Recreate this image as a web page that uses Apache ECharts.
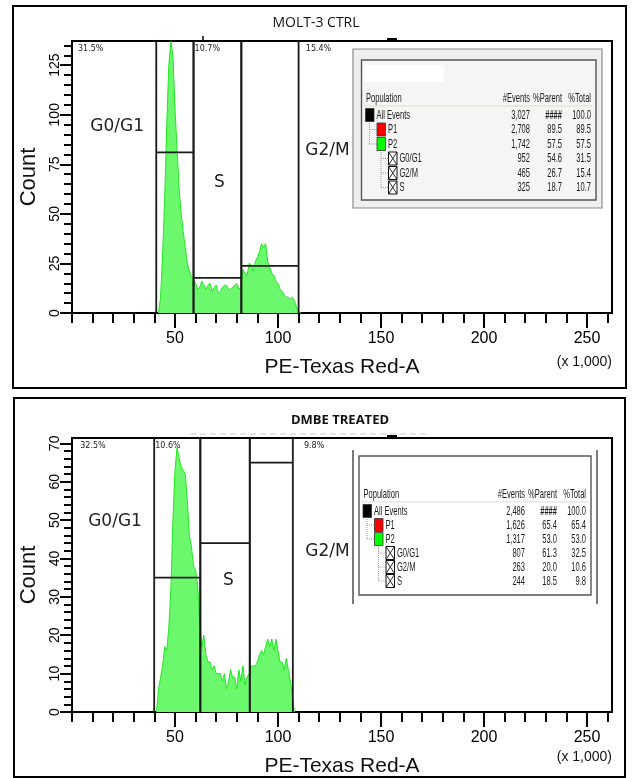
<!DOCTYPE html>
<html>
<head>
<meta charset="utf-8">
<script src="https://cdn.jsdelivr.net/npm/echarts@6/dist/echarts.min.js"></script>
<style>html,body{margin:0;padding:0;background:#fff}#c{width:632px;height:778px}</style>
</head>
<body>
<div id="c"></div>
<script>
// ---------------- DATA ----------------
const panelTitles = ['MOLT-3 CTRL', 'DMBE TREATED'];
const xAxisName = 'PE-Texas Red-A';
const xAxisUnit = '(x 1,000)';
const yAxisName = 'Count';

const binsCtrl = [42,43,44,45,46,47,48,49,50,51,52,53,54,55,56,57,58,59,60,61,62,63,64,65,66,67,68,69,70,71,72,73,74,75,76,77,78,79,80,81,82,83,84,85,86,87,88,89,90,91,92,93,94,95,96,97,98,99,100,101,102,103,104,105,106,107,108,109,110,111];
const countsCtrl = [0,8,30,58,95,125,137,130,103,83,
  63,50,41,33,25,21,18,17,15,12,
  13,16,14,12,14,15,11,13,14,10,
  11,13,14,14,12,12,13,14,15,12,
  13,22,20,19,25,24,21,26,28,31,
  35,33,35,26,23,20,19,16,15,12,
  11,9,8,8,7,8,6,3,1,0];

const binsDmbe = [41,42,43,44,45,46,47,48,49,50,51,52,53,54,55,56,57,58,59,60,61,62,63,64,65,66,67,68,69,70,71,72,73,74,75,76,77,78,79,80,81,82,83,84,85,86,87,88,89,90,91,92,93,94,95,96,97,98,99,100,101,102,103,104,105,106,107,108];
const countsDmbe = [0,6,9,12,17,16,22,32,50,63,
  69,66,64,63,62,55,46,43,38,37,
  33,24,17,20,15,13,13,11,12,10,
  10,10,8,10,6,8,11,9,9,6,
  11,8,12,7,9,10,12,12,12,13,
  15,16,15,17,19,17,19,16,19,16,
  13,13,11,14,11,8,4,0];

// gates: [start, end, level]
const gateNames = ['G0/G1', 'S', 'G2/M'];
const gatesCtrl = [[40.9, 59.0, 81], [59.0, 82.2, 17.7], [82.2, 110.0, 23.8]];
const gatesDmbe = [[39.9, 62.3, 35], [62.3, 86.3, 44], [86.3, 107.2, 65]];
const pctLabelsCtrl = ['31.5%', '10.7%', '15.4%'];
const pctLabelsDmbe = ['32.5%', '10.6%', '9.8%'];

// axes
const xMax = 262.144;
const yMaxCtrl = 137.2;
const yMaxDmbe = 71.4;
const xMajorTicks = [50, 100, 150, 200, 250];
const xMinorTicks = [0,10,20,30,40,50,60,70,80,90,100,110,120,130,140,150,160,170,180,190,200,210,220,230,240,250,260];
const yMajorCtrl = [0, 25, 50, 75, 100, 125];
const yMinorCtrl = [0,5,10,15,20,25,30,35,40,45,50,55,60,65,70,75,80,85,90,95,100,105,110,115,120,125,130,135];
const yMajorDmbe = [0, 10, 20, 30, 40, 50, 60, 70];
const yMinorDmbe = [0,2,4,6,8,10,12,14,16,18,20,22,24,26,28,30,32,34,36,38,40,42,44,46,48,50,52,54,56,58,60,62,64,66,68,70];

// statistics tables
const tableHeader = ['Population', '#Events', '%Parent', '%Total'];
const populations = ['All Events', 'P1', 'P2', 'G0/G1', 'G2/M', 'S'];
const eventsCtrl = ['3,027', '2,708', '1,742', '952', '465', '325'];
const parentCtrl = ['####', '89.5', '57.5', '54.6', '26.7', '18.7'];
const totalCtrl  = ['100.0', '89.5', '57.5', '31.5', '15.4', '10.7'];
const eventsDmbe = ['2,486', '1,626', '1,317', '807', '263', '244'];
const parentDmbe = ['####', '65.4', '53.0', '61.3', '20.0', '18.5'];
const totalDmbe  = ['100.0', '65.4', '53.0', '32.5', '10.6', '9.8'];

// ---------------- LAYOUT / STYLE ----------------
const SANS = "'Liberation Sans', Arial, sans-serif";
const VERD = "'DejaVu Sans', Verdana, sans-serif";
const grids = [
  {left: 72, top: 41, width: 540, height: 272},
  {left: 72, top: 438, width: 540, height: 274}
];
const regionLabelAnchors = [
  [[21.9, 94], [71.5, 66], [124, 82]],
  [[20.9, 49.7], [75.9, 34.3], [124, 41.8]]
];
const pctAnchorsX = [[2.9, 59.5, 113.5], [4.0, 40.4, 112.6]];

function xAxesFor(gi) {
  return [
    {gridIndex: gi, type: 'value', min: 0, max: xMax, interval: 50, position: 'bottom',
     axisLine: {show: true, onZero: false, lineStyle: {color: '#000', width: 2}},
     axisTick: {show: true, inside: false, length: 15, customValues: xMajorTicks, lineStyle: {color: '#000', width: 2}},
     axisLabel: {show: true, customValues: xMajorTicks, margin: 18, fontSize: 16, color: '#000', fontFamily: SANS},
     splitLine: {show: false},
     name: xAxisName, nameLocation: 'middle', nameGap: 44,
     nameTextStyle: {fontSize: 21, color: '#111', fontFamily: SANS}},
    {gridIndex: gi, type: 'value', min: 0, max: xMax, interval: 10, position: 'bottom',
     axisLine: {show: false}, axisLabel: {show: false}, splitLine: {show: false},
     axisTick: {show: true, inside: false, length: 10, customValues: xMinorTicks, lineStyle: {color: '#000', width: 2}}}
  ];
}
function yAxesFor(gi, yMax, major, minor, majInt, minInt) {
  return [
    {gridIndex: gi, type: 'value', min: 0, max: yMax, interval: majInt, position: 'left',
     axisLine: {show: true, onZero: false, lineStyle: {color: '#000', width: 2}},
     axisTick: {show: true, inside: false, length: 12, customValues: major, lineStyle: {color: '#000', width: 2}},
     axisLabel: {show: true, customValues: major, rotate: 90, margin: 10, fontSize: 14, color: '#000', fontFamily: SANS},
     splitLine: {show: false},
     name: yAxisName, nameLocation: 'middle', nameGap: 30, nameRotate: 90,
     nameTextStyle: {fontSize: 22, color: '#111', fontFamily: SANS}},
    {gridIndex: gi, type: 'value', min: 0, max: yMax, interval: minInt, position: 'left',
     axisLine: {show: false}, axisLabel: {show: false}, splitLine: {show: false},
     axisTick: {show: true, inside: false, length: 8, customValues: minor, lineStyle: {color: '#000', width: 2}}}
  ];
}

function gateRender(params, api) {
  const cs = params.coordSys;
  const xa = api.coord([api.value(0), 0])[0];
  const xb = api.coord([api.value(1), 0])[0];
  const yh = api.coord([0, api.value(2)])[1];
  const st = {stroke: '#1a1a1a', lineWidth: 1.8};
  return {type: 'group', children: [
    {type: 'line', shape: {x1: xa, y1: cs.y, x2: xa, y2: cs.y + cs.height}, style: st},
    {type: 'line', shape: {x1: xb, y1: cs.y, x2: xb, y2: cs.y + cs.height}, style: st},
    {type: 'line', shape: {x1: xa, y1: yh, x2: xb, y2: yh}, style: st}
  ]};
}

function histSeries(xi, yi, bins, counts) {
  return {type: 'line', xAxisIndex: xi, yAxisIndex: yi,
    data: bins.map((b, i) => [b, counts[i]]),
    symbol: 'none', silent: true, z: 2,
    lineStyle: {color: '#22e622', width: 1},
    areaStyle: {color: '#6cf86c', opacity: 1}};
}

const chart = echarts.init(document.getElementById('c'));
chart.setOption({
  animation: false,
  backgroundColor: '#fff',
  grid: grids.map(g => Object.assign({show: true, borderColor: '#000', borderWidth: 2, containLabel: false, outerBoundsMode: 'none'}, g)),
  xAxis: [].concat(xAxesFor(0), xAxesFor(1)),
  yAxis: [].concat(yAxesFor(0, yMaxCtrl, yMajorCtrl, yMinorCtrl, 25, 5), yAxesFor(1, yMaxDmbe, yMajorDmbe, yMinorDmbe, 10, 2)),
  series: [
    histSeries(0, 0, binsCtrl, countsCtrl),
    {type: 'custom', xAxisIndex: 0, yAxisIndex: 0, data: gatesCtrl, renderItem: gateRender, z: 5, clip: false, silent: true},
    histSeries(2, 2, binsDmbe, countsDmbe),
    {type: 'custom', xAxisIndex: 2, yAxisIndex: 2, data: gatesDmbe, renderItem: gateRender, z: 5, clip: false, silent: true}
  ]
});

// ---------------- GRAPHIC OVERLAYS ----------------
const els = [];
// panel frames
els.push({type: 'rect', shape: {x: 13, y: 6, width: 613, height: 382}, style: {fill: null, stroke: '#000', lineWidth: 2}, z: 1});
els.push({type: 'rect', shape: {x: 14, y: 398, width: 611, height: 379}, style: {fill: null, stroke: '#000', lineWidth: 2}, z: 1});
// titles
els.push({type: 'text', style: {text: panelTitles[0], x: 316, y: 23, align: 'center', verticalAlign: 'middle', fill: '#111', font: "14px 'Open Sans', sans-serif"}, z: 10});
els.push({type: 'text', style: {text: panelTitles[1], x: 340, y: 420, align: 'center', verticalAlign: 'middle', fill: '#111', font: "bold 13px 'Open Sans', sans-serif"}, z: 10});
// small artifacts on plot tops
els.push({type: 'line', shape: {x1: 203, y1: 36, x2: 203, y2: 41}, style: {stroke: '#000', lineWidth: 1.5}, z: 10});
els.push({type: 'rect', shape: {x: 387, y: 38, width: 10, height: 3.5}, style: {fill: '#000'}, z: 10});
els.push({type: 'line', shape: {x1: 190, y1: 434, x2: 430, y2: 434}, style: {stroke: '#c8c8c8', lineWidth: 1, lineDash: [6, 4]}, z: 10});
els.push({type: 'rect', shape: {x: 387, y: 435, width: 10, height: 3.5}, style: {fill: '#000'}, z: 10});
// unit labels
[[612, 362], [612, 757]].forEach(p => {
  els.push({type: 'text', style: {text: xAxisUnit, x: p[0], y: p[1], align: 'right', verticalAlign: 'middle', fill: '#111', font: '14px ' + SANS}, z: 10});
});

// region & percentage labels via the axes' scales
const pctSets = [pctLabelsCtrl, pctLabelsDmbe];
[0, 1].forEach(gi => {
  const finder = {gridIndex: gi};
  regionLabelAnchors[gi].forEach((a, k) => {
    const p = chart.convertToPixel(finder, a);
    els.push({type: 'text', style: {text: gateNames[k], x: p[0], y: p[1], align: 'center', verticalAlign: 'middle', fill: '#222', font: '17px ' + VERD}, z: 10});
  });
  pctAnchorsX[gi].forEach((ax, k) => {
    const p = chart.convertToPixel(finder, [ax, 0]);
    els.push({type: 'text', style: {text: pctSets[gi][k], x: p[0], y: grids[gi].top + 8, align: 'left', verticalAlign: 'middle', fill: '#222', font: '8px ' + VERD}, z: 10});
  });
});

// statistics tables (narrow text emulated by horizontal scaling)
const TFONT = '13px ' + SANS;
const NARROW_SCALE = 0.58;
function ntext(text, x, y, align, z, bold) {
  return {type: 'text', x: x, y: y, scaleX: NARROW_SCALE, z: z,
    style: {text: text, x: 0, y: 0, align: align, verticalAlign: 'middle', fill: '#1a1a1a', font: (bold ? 'bold ' : '') + TFONT}};
}
function buildTable(c) {
  const [ix, iy, iw, ih] = c.inner;
  const R = ix + iw;
  if (c.outerFull) {
    els.push({type: 'rect', shape: {x: c.outer[0], y: c.outer[1], width: c.outer[2], height: c.outer[3]}, style: {fill: c.outerFill, stroke: '#8a8a8a', lineWidth: 1.2}, z: 20});
  } else {
    const [ox, oy, ow, oh] = c.outer;
    els.push({type: 'line', shape: {x1: ox, y1: oy, x2: ox, y2: oy + oh}, style: {stroke: '#222', lineWidth: 1.2}, z: 20});
    els.push({type: 'line', shape: {x1: ox + ow, y1: oy, x2: ox + ow, y2: oy + oh}, style: {stroke: '#222', lineWidth: 1.2}, z: 20});
  }
  els.push({type: 'rect', shape: {x: ix, y: iy, width: iw, height: ih}, style: {fill: c.innerFill, stroke: '#555', lineWidth: 1.4}, z: 21});
  if (c.whiteBox) els.push({type: 'rect', shape: {x: ix + 2, y: iy + 5, width: 80, height: 17}, style: {fill: '#fff'}, z: 22});
  const hy = iy + 38;
  const colR = [R - 66, R - 34, R - 5];
  els.push(ntext(tableHeader[0], ix + 4.5, hy, 'left', 23));
  for (let k = 1; k < 4; k++) els.push(ntext(tableHeader[k], colR[k - 1], hy, 'right', 23));
  els.push({type: 'line', shape: {x1: ix + 2, y1: iy + 46, x2: R - 3, y2: iy + 46}, style: {stroke: '#e2dbcc', lineWidth: 1}, z: 23});
  const levels = [0, 1, 1, 2, 2, 2];
  const icons = ['#000', '#ff0000', '#00ff00', 'x', 'x', 'x'];
  const rowY = populations.map((_, i) => iy + 55 + i * c.rowStep);
  // tree lines
  const tl = {stroke: '#9a9a9a', lineWidth: 1, lineDash: [1, 1]};
  const lx0 = ix + 8, lx1 = ix + 19.5;
  els.push({type: 'line', shape: {x1: lx0, y1: rowY[0] + 6, x2: lx0, y2: rowY[2]}, style: tl, z: 23});
  [1, 2].forEach(i => els.push({type: 'line', shape: {x1: lx0, y1: rowY[i], x2: ix + 15.5, y2: rowY[i]}, style: tl, z: 23}));
  els.push({type: 'line', shape: {x1: lx1, y1: rowY[2] + 6, x2: lx1, y2: rowY[5]}, style: tl, z: 23});
  [3, 4, 5].forEach(i => els.push({type: 'line', shape: {x1: lx1, y1: rowY[i], x2: ix + 27, y2: rowY[i]}, style: tl, z: 23}));
  populations.forEach((name, i) => {
    const y = rowY[i];
    const icx = ix + 4 + levels[i] * 11.5;
    if (icons[i] === 'x') {
      els.push({type: 'rect', shape: {x: icx, y: y - 6.5, width: 8.5, height: 13}, style: {fill: '#fff', stroke: '#111', lineWidth: 1}, z: 24});
      els.push({type: 'line', shape: {x1: icx, y1: y - 6.5, x2: icx + 8.5, y2: y + 6.5}, style: {stroke: '#111', lineWidth: 0.9}, z: 24});
      els.push({type: 'line', shape: {x1: icx + 8.5, y1: y - 6.5, x2: icx, y2: y + 6.5}, style: {stroke: '#111', lineWidth: 0.9}, z: 24});
    } else {
      els.push({type: 'rect', shape: {x: icx, y: y - 6.5, width: 8.5, height: 13}, style: {fill: icons[i], stroke: '#333', lineWidth: 0.8}, z: 24});
    }
    els.push(ntext(name, icx + 11, y, 'left', 24));
    const vals = [c.events[i], c.parent[i], c.total[i]];
    vals.forEach((v, k) => {
      els.push(ntext(v, colR[k], y, 'right', 24, v.indexOf('#') >= 0));
    });
  });
}
buildTable({outerFull: true, outer: [353, 49, 249, 159], outerFill: '#efefef', inner: [361.5, 60, 234.5, 140], innerFill: '#f5f5f5', whiteBox: true,
  rowStep: 14.5, events: eventsCtrl, parent: parentCtrl, total: totalCtrl});
buildTable({outerFull: false, outer: [353, 450, 244, 154], inner: [359, 456, 232, 139], innerFill: '#fff', whiteBox: false,
  rowStep: 14, events: eventsDmbe, parent: parentDmbe, total: totalDmbe});

chart.setOption({graphic: {elements: els}});
</script>
</body>
</html>
